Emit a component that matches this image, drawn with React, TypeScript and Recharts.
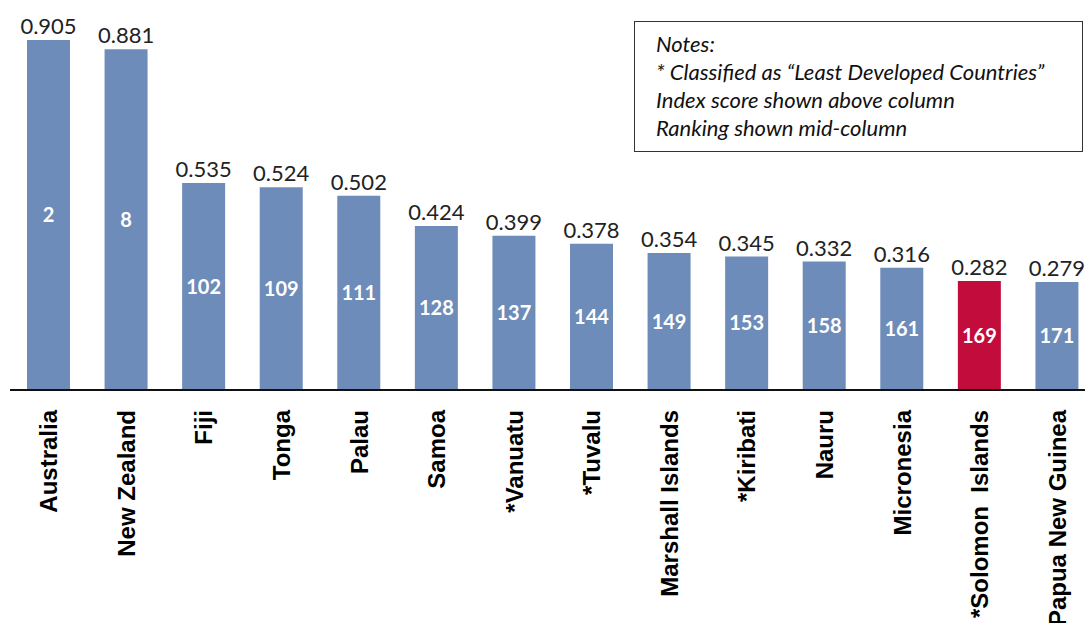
import { BarChart, Bar, XAxis, YAxis, Cell, LabelList } from 'recharts';

// Pacific countries, index score and world ranking
const countries = [
  'Australia',
  'New Zealand',
  'Fiji',
  'Tonga',
  'Palau',
  'Samoa',
  '*Vanuatu',
  '*Tuvalu',
  'Marshall Islands',
  '*Kiribati',
  'Nauru',
  'Micronesia',
  '*Solomon  Islands',
  'Papua New Guinea',
];
const scores = [0.905, 0.881, 0.535, 0.524, 0.502, 0.424, 0.399, 0.378, 0.354, 0.345, 0.332, 0.316, 0.282, 0.279];
const ranks = [2, 8, 102, 109, 111, 128, 137, 144, 149, 153, 158, 161, 169, 171];
const highlighted = '*Solomon  Islands';

const notes = [
  'Notes:',
  '* Classified as \u201cLeast Developed Countries\u201d',
  'Index score shown above column',
  'Ranking shown mid-column',
];

const BLUE = '#6d8cba';
const RED = '#c20c3c';

const data = countries.map((name, i) => ({
  name,
  score: scores[i],
  rank: ranks[i],
}));

function CountryTick({ x, y, payload }: any) {
  return (
    <text
      transform={`translate(${x},${y + 12}) rotate(-90)`}
      textAnchor="end"
      dominantBaseline="central"
      fontFamily="'Liberation Sans', Arial, sans-serif"
      fontWeight="bold"
      fontSize={24}
      fill="#000"
      style={{ whiteSpace: 'pre' }}
    >
      {payload.value}
    </text>
  );
}

export default function App() {
  return (
    <div
      style={{
        position: 'absolute',
        left: 0,
        top: 0,
        width: 1085,
        height: 623,
        overflow: 'hidden',
        background: '#fff',
      }}
    >
      <BarChart
        width={1100}
        height={623}
        data={data}
        margin={{ top: 40, right: 4, left: 10, bottom: 3 }}
      >
        <YAxis hide domain={[0, 0.905]} />
        <XAxis
          dataKey="name"
          interval={0}
          height={230}
          tickLine={false}
          axisLine={{ stroke: '#111', strokeWidth: 2 }}
          tick={<CountryTick />}
        />
        <Bar dataKey="score" barSize={43} isAnimationActive={false}>
          {data.map((d) => (
            <Cell key={d.name} fill={d.name === highlighted ? RED : BLUE} />
          ))}
          <LabelList
            dataKey="score"
            position="top"
            offset={6}
            fill="#222"
            fontSize={22}
            fontFamily="Lato, 'Open Sans', sans-serif"
            formatter={(v: any) => Number(v).toFixed(3)}
          />
          <LabelList
            dataKey="rank"
            position="center"
            fill="#fff"
            fontSize={20}
            fontWeight="bold"
            fontFamily="Lato, 'Open Sans', sans-serif"
          />
        </Bar>
      </BarChart>
      <div
        style={{
          position: 'absolute',
          left: 634,
          top: 21,
          width: 449,
          height: 131,
          border: '1px solid #333',
          boxSizing: 'border-box',
          padding: '8px 0 0 21px',
          fontFamily: 'Lato, sans-serif',
          fontStyle: 'italic',
          fontSize: 22,
          lineHeight: '28px',
          color: '#111',
          whiteSpace: 'nowrap',
        }}
      >
        {notes.map((line) => (
          <div key={line}>{line}</div>
        ))}
      </div>
    </div>
  );
}
